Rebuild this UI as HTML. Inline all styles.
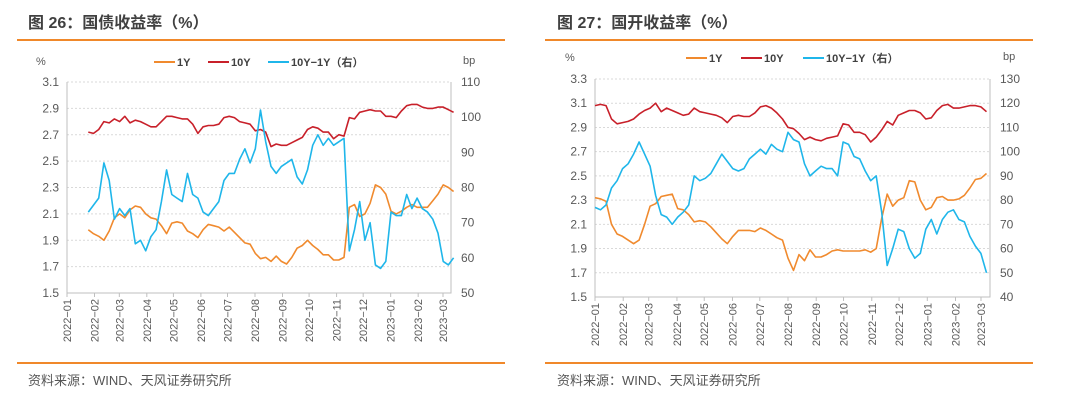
<!DOCTYPE html>
<html><head><meta charset="utf-8">
<style>
body{margin:0;background:#fff;width:1080px;height:413px;overflow:hidden;font-family:"Liberation Sans","Noto Sans CJK SC",sans-serif;}
svg{position:absolute;left:0;top:0}
</style></head>
<body>
<svg id="s" width="1080" height="413" xmlns="http://www.w3.org/2000/svg">
<text x="28" y="28" font-size="16" font-weight="bold" fill="#404040" font-family="Liberation Sans,Noto Sans CJK SC,sans-serif">图 26：国债收益率（%）</text>
<text x="557" y="28" font-size="16" font-weight="bold" fill="#404040" font-family="Liberation Sans,Noto Sans CJK SC,sans-serif">图 27：国开收益率（%）</text>
<rect x="17" y="39" width="488" height="2" fill="#f0882a"/>
<rect x="545" y="39" width="488" height="2" fill="#f0882a"/>
<rect x="17" y="362" width="488" height="2" fill="#f0882a"/>
<rect x="545" y="362" width="488" height="2" fill="#f0882a"/>
<text x="28" y="385" font-size="13" fill="#555" font-family="Liberation Sans,Noto Sans CJK SC,sans-serif">资料来源：WIND、天风证券研究所</text>
<text x="557" y="385" font-size="13" fill="#555" font-family="Liberation Sans,Noto Sans CJK SC,sans-serif">资料来源：WIND、天风证券研究所</text>
</svg>
<script>
const months=["2022-01","2022-02","2022-03","2022-04","2022-05","2022-06","2022-07","2022-08","2022-09","2022-10","2022-11","2022-12","2023-01","2023-02","2023-03"];
const leftTicksL=[1.5,1.7,1.9,2.1,2.3,2.5,2.7,2.9,3.1];
const leftTicksR=[50,60,70,80,90,100,110];
const gov1Y=[1.98,1.95,1.93,1.90,1.97,2.07,2.10,2.07,2.13,2.16,2.15,2.10,2.07,2.06,2.01,1.95,2.03,2.04,2.03,1.97,1.95,1.92,1.98,2.02,2.01,2.00,1.97,2.00,1.96,1.92,1.88,1.87,1.80,1.76,1.77,1.74,1.78,1.74,1.72,1.77,1.84,1.86,1.90,1.86,1.83,1.79,1.79,1.75,1.75,1.77,2.15,2.17,2.08,2.10,2.18,2.32,2.30,2.25,2.12,2.10,2.12,2.15,2.17,2.15,2.15,2.15,2.20,2.25,2.32,2.30,2.27];
const gov10Y=[2.72,2.71,2.74,2.80,2.79,2.82,2.80,2.84,2.79,2.81,2.80,2.78,2.76,2.76,2.80,2.84,2.84,2.83,2.82,2.82,2.78,2.71,2.76,2.77,2.77,2.78,2.83,2.84,2.83,2.80,2.79,2.78,2.73,2.74,2.72,2.61,2.63,2.62,2.62,2.64,2.66,2.68,2.74,2.76,2.75,2.72,2.72,2.67,2.70,2.69,2.83,2.82,2.87,2.88,2.89,2.88,2.88,2.84,2.84,2.83,2.88,2.92,2.93,2.93,2.91,2.90,2.90,2.91,2.91,2.89,2.87];
const govSpread=[73,75,77,87,82,71,74,72,74,64,65,62,66,68,76,85,78,77,76,84,78,77,73,72,74,76,82,84,84,88,91,87,91,102,93,86,84,86,87,88,83,81,85,92,95,92,94,92,93,94,62,68,76,65,70,58,57,59,73,72,72,78,74,77,74,73,71,67,59,58,60];
const rightTicksL=[1.5,1.7,1.9,2.1,2.3,2.5,2.7,2.9,3.1,3.3];
const rightTicksR=[40,50,60,70,80,90,100,110,120,130];
const cdb1Y=[2.32,2.31,2.29,2.10,2.02,2.00,1.97,1.94,1.97,2.10,2.25,2.27,2.33,2.34,2.35,2.23,2.22,2.18,2.12,2.13,2.12,2.08,2.03,1.98,1.94,2.00,2.05,2.05,2.05,2.04,2.07,2.05,2.02,1.99,1.97,1.82,1.72,1.85,1.80,1.89,1.83,1.83,1.85,1.88,1.89,1.88,1.88,1.88,1.88,1.89,1.87,1.90,2.15,2.35,2.25,2.30,2.32,2.46,2.45,2.30,2.22,2.24,2.32,2.33,2.30,2.30,2.31,2.34,2.40,2.47,2.48,2.52];
const cdb10Y=[3.08,3.09,3.08,2.97,2.93,2.94,2.95,2.97,3.01,3.04,3.06,3.10,3.03,3.06,3.04,3.02,3.00,3.01,3.06,3.03,3.02,3.01,3.00,2.98,2.94,2.99,3.00,2.99,2.99,3.02,3.07,3.08,3.06,3.02,2.97,2.90,2.89,2.85,2.80,2.82,2.80,2.79,2.81,2.82,2.83,2.93,2.92,2.86,2.86,2.84,2.78,2.82,2.88,2.95,2.92,3.00,3.02,3.04,3.04,3.02,2.97,2.98,3.04,3.08,3.09,3.06,3.06,3.07,3.08,3.08,3.07,3.03];
const cdbSpread=[77,76,78,85,88,93,95,99,104,99,94,82,74,73,70,73,75,78,90,88,89,91,95,99,96,93,92,93,97,99,101,99,103,101,100,108,105,104,95,90,92,94,93,93,90,104,103,98,97,92,88,90,75,53,60,68,67,60,56,58,68,72,66,72,75,76,72,71,65,61,58,50];

const NS="http://www.w3.org/2000/svg";
const svg=document.getElementById('s');
function mk(tag,attrs,parent){const e=document.createElementNS(NS,tag);for(const k in attrs)e.setAttribute(k,attrs[k]);(parent||svg).appendChild(e);return e;}
function day(s){return (Date.parse(s)-Date.parse("2022-01-01"))/86400000;}
const FONT="Liberation Sans,Noto Sans CJK SC,sans-serif";

function chart(cfg){
  const g=mk('g',{});
  
  
  const {x0,x1,y0,y1}=cfg;
  const xs=d=>cfg.tx0+(d)*(cfg.tx1-cfg.tx0)/day("2023-03-01");
  const yl=v=>y1-(v-cfg.lmin)/(cfg.lmax-cfg.lmin)*(y1-y0);
  const yr=v=>y1-(v-cfg.rmin)/(cfg.rmax-cfg.rmin)*(y1-y0);
  cfg.ticksL.forEach(v=>{
    if(v!==cfg.lmin){const l=mk('line',{x1:x0,x2:x1,y1:yl(v),y2:yl(v),stroke:'#d9d9d9','stroke-dasharray':'2,2','stroke-width':1},g);
    
    }
    const t=mk('text',{x:x0-8,y:yl(v)+4,'text-anchor':'end','font-size':12,fill:'#595959','font-family':FONT},g);
    t.textContent=v.toFixed(1);
    
    
  });
  cfg.ticksR.forEach(v=>{
    const t=mk('text',{x:x1+10,y:yr(v)+4,'font-size':12,fill:'#595959','font-family':FONT},g);
    t.textContent=v;
    
    
  });
  const ax=mk('path',{d:`M${x0},${y0}V${y1}H${x1}V${y0}`,fill:'none',stroke:'#bfbfbf','stroke-width':1},g);
  
  
  months.forEach(m=>{
    const x=xs(day(m+"-01"));
    mk('line',{x1:x,x2:x,y1:y1,y2:y1+4,stroke:'#bfbfbf'},g);
    const t=mk('text',{x:0,y:0,transform:`translate(${x+4},${y1+6}) rotate(-90)`,'text-anchor':'end','font-size':11,fill:'#595959','font-family':FONT},g);
    t.textContent=m.replace('-','\u2212');
    
    
  });
  const d0=day(cfg.start),d1=day(cfg.end);
  function line(arr,ys,color,name){
    const n=arr.length;
    const pts=arr.map((v,i)=>[xs(d0+(d1-d0)*i/(n-1)),ys(v)]);
    const p=mk('path',{d:'M'+pts.map(p=>p[0].toFixed(1)+','+p[1].toFixed(1)).join('L'),fill:'none',stroke:color,'stroke-width':1.6,'stroke-linejoin':'round'},g);
    
    
  }
  line(cfg.s1,yl,'#f08a2e','series-1y');
  line(cfg.s10,yl,'#c8202a','series-10y');
  line(cfg.sp,yr,'#1fb6ea','series-spread');
  const L=cfg.leg;
  [[L[0],'#f08a2e','1Y'],[L[1],'#c8202a','10Y'],[L[2],'#1fb6ea','10Y\u22121Y（右）']].forEach(([lx,c,lab])=>{
    const e=mk('g',{},g);
    
    
    mk('line',{x1:lx,x2:lx+21,y1:cfg.ly-4,y2:cfg.ly-4,stroke:c,'stroke-width':2},e);
    const t=mk('text',{x:lx+23,y:cfg.ly,'font-size':11,'font-weight':'bold',fill:'#404040','font-family':FONT},e);
    t.textContent=lab;
  });
  const u1=mk('text',{x:cfg.pctX,y:cfg.ly-1,'font-size':11,fill:'#595959','font-family':FONT},g);u1.textContent='%';
  
  
  const u2=mk('text',{x:cfg.bpX,y:cfg.ly-2,'font-size':11,fill:'#595959','font-family':FONT},g);u2.textContent='bp';
  
  
}
chart({name:'chart-govt-bond',x0:67,x1:451,y0:82,y1:293,tx0:67,tx1:443,lmin:1.5,lmax:3.1,rmin:50,rmax:110,
  ticksL:leftTicksL,ticksR:leftTicksR,start:"2022-01-25",end:"2023-03-13",s1:gov1Y,s10:gov10Y,sp:govSpread,
  leg:[154,208,268],ly:66,pctX:36,bpX:463});
chart({name:'chart-cdb-bond',x0:595,x1:990,y0:79,y1:297,tx0:595,tx1:981,lmin:1.5,lmax:3.3,rmin:40,rmax:130,
  ticksL:rightTicksL,ticksR:rightTicksR,start:"2022-01-01",end:"2023-03-07",s1:cdb1Y,s10:cdb10Y,sp:cdbSpread,
  leg:[686,741,803],ly:62,pctX:565,bpX:1003});
</script>
</body></html>
